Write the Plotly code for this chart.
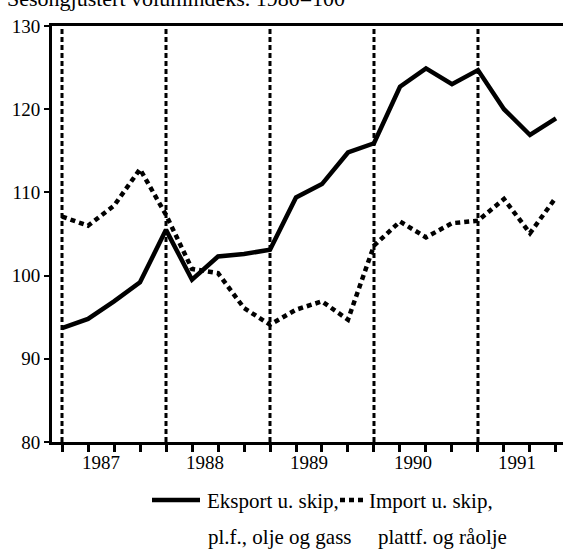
import plotly.graph_objects as go

# Quarterly series, 1987 Q1 - 1991 Q4 (seasonally adjusted volume index, 1980=100)
years = [1987, 1988, 1989, 1990, 1991]
quarters = [f"{y}K{q}" for y in years for q in range(1, 5)]
eksport = [93.7, 94.8, 96.9, 99.2, 105.5, 99.5, 102.3, 102.6, 103.1, 109.4,
           111.0, 114.8, 115.9, 122.7, 124.9, 123.0, 124.7, 120.0, 116.9, 118.9]
importv = [107.1, 106.0, 108.4, 112.8, 107.3, 100.8, 100.3, 96.1, 94.1, 95.9,
           96.9, 94.7, 103.6, 106.5, 104.6, 106.3, 106.6, 109.2, 105.1, 109.4]
y_ticks = [80, 90, 100, 110, 120, 130]

x = list(range(len(quarters)))
year_start = [quarters.index(f"{y}K1") for y in years]
year_mid = [s + 1.5 for s in year_start]

FONT = "Liberation Serif"
W, H = 563, 554
ML, MR, MT, MB = 52, 0, 26, 112
PW, PH = W - ML - MR, H - MT - MB
X_RANGE = [-0.385, 19.27]


def px(xp):
    return (xp - ML) / PW


def py(yp):
    return (H - MB - yp) / PH


fig = go.Figure()

# vertical dashed separators at the first quarter of each year
for s in year_start:
    fig.add_trace(go.Scatter(
        x=[s, s], y=[y_ticks[0], y_ticks[-1]], mode="lines",
        line=dict(color="black", width=3, dash="5px,3px"),
        showlegend=False, hoverinfo="skip"))

fig.add_trace(go.Scatter(
    x=x, y=importv, mode="lines", name="Import u. skip, plattf. og råolje",
    line=dict(color="black", width=4.5, dash="5px,4px"), showlegend=False))
fig.add_trace(go.Scatter(
    x=x, y=eksport, mode="lines", name="Eksport u. skip, pl.f., olje og gass",
    line=dict(color="black", width=4.5), showlegend=False))

# quarter tick marks on the main x axis, year labels on an overlaid axis
fig.update_layout(
    xaxis=dict(
        range=X_RANGE, showgrid=False, zeroline=False,
        showline=True, linecolor="black", linewidth=3, mirror=True,
        tickmode="array", tickvals=x, ticktext=[""] * len(x),
        ticks="outside", ticklen=7, tickwidth=2.5, tickcolor="black",
    ),
    xaxis2=dict(
        range=X_RANGE, overlaying="x", side="bottom", anchor="y",
        showgrid=False, zeroline=False, showline=False,
        tickmode="array", tickvals=year_mid, ticktext=[str(y) for y in years],
        ticks="", ticklabelstandoff=7,
        tickfont=dict(family=FONT, size=19, color="black"),
    ),
    yaxis=dict(
        range=[y_ticks[0], y_ticks[-1]], showgrid=False, zeroline=False,
        showline=True, linecolor="black", linewidth=3,
        tickmode="array", tickvals=y_ticks,
        ticks="outside", ticklen=5, tickwidth=2, tickcolor="black",
        tickfont=dict(family=FONT, size=19, color="black"),
    ),
)
# invisible carrier trace so the year-label axis is rendered
fig.add_trace(go.Scatter(x=year_mid, y=[None] * len(year_mid), xaxis="x2",
                         mode="lines", showlegend=False, hoverinfo="skip"))

ann_font = dict(family=FONT, size=21, color="black")
annotations = [
    dict(text="Sesongjustert volumindeks. 1980=100", x=px(5), y=py(-1),
         xanchor="left", yanchor="middle", font=dict(family=FONT, size=22, color="black")),
    dict(text="Eksport u. skip,", x=px(205), y=py(501), xanchor="left", yanchor="middle"),
    dict(text="pl.f., olje og gass", x=px(206), y=py(537), xanchor="left", yanchor="middle"),
    dict(text="Import u. skip,", x=px(367), y=py(501), xanchor="left", yanchor="middle"),
    dict(text="plattf. og råolje", x=px(376), y=py(537), xanchor="left", yanchor="middle"),
]
for a in annotations:
    a.update(xref="paper", yref="paper", showarrow=False)
    a.setdefault("font", ann_font)

shapes = [
    dict(type="line", xref="paper", yref="paper", x0=px(152), x1=px(200),
         y0=py(500), y1=py(500), line=dict(color="black", width=4.5)),
    dict(type="line", xref="paper", yref="paper", x0=px(340), x1=px(363),
         y0=py(500), y1=py(500), line=dict(color="black", width=4.5, dash="5px,4px")),
]

fig.update_layout(
    width=W, height=H, margin=dict(l=ML, r=MR, t=MT, b=MB),
    paper_bgcolor="white", plot_bgcolor="white",
    annotations=annotations, shapes=shapes, showlegend=False,
)

fig.write_html("out.html")
